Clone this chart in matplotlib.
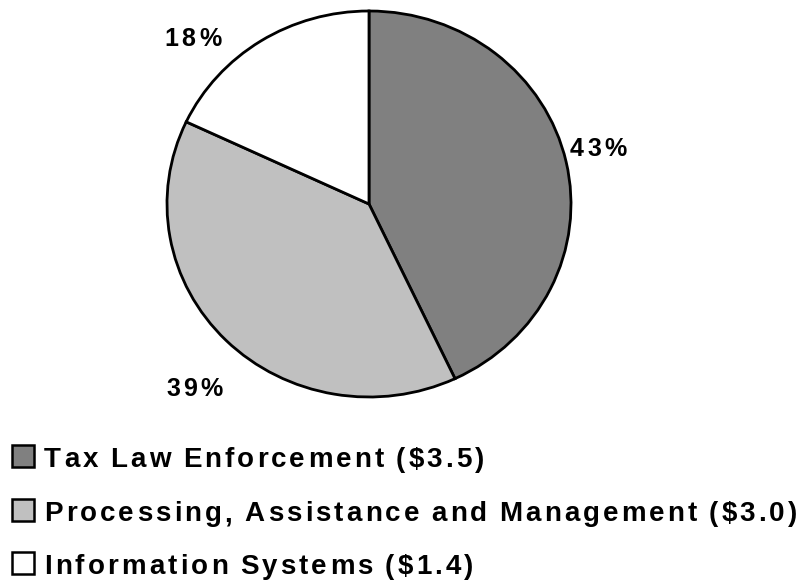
import matplotlib
matplotlib.use("Agg")
import matplotlib.pyplot as plt
from matplotlib import font_manager
from matplotlib.transforms import IdentityTransform

# data (billions of dollars)
categories = ["Tax Law Enforcement", "Processing, Assistance and Management", "Information Systems"]
amounts = [3.5, 3.0, 1.4]
percents = [43, 39, 18]
colors = ["#808080", "#c0c0c0", "#ffffff"]

W, H = 811, 580


def pick_font():
    for name in ["Liberation Sans Narrow", "Arial Narrow", "Liberation Sans"]:
        try:
            font_manager.findfont(font_manager.FontProperties(family=name), fallback_to_default=False)
            return name
        except ValueError:
            continue
    return "DejaVu Sans"


FONT = pick_font()


def spaced_text(fig, renderer, x, y, s, size, spacing, space_w=0.22):
    # draw string char by char with extra tracking, x/y in pixels from top-left
    x_cur = x
    for ch in s:
        if ch == " ":
            x_cur += size * 100 / 72 * space_w + spacing
            continue
        t = fig.text(x_cur, H - y, ch, transform=IdentityTransform(), fontsize=size,
                     fontweight="bold", family=FONT, ha="left", va="center_baseline")
        w = t.get_window_extent(renderer).width
        x_cur += w + spacing
    return x_cur


fig = plt.figure(figsize=(W / 100, H / 100), dpi=100)
renderer = fig.canvas.get_renderer()

ax = fig.add_axes([167 / W, (H - 397) / H, 404 / W, 386 / H])
ax.pie(percents, colors=colors, startangle=90, counterclock=False,
       wedgeprops=dict(edgecolor="black", linewidth=2.0))
ax.set_aspect("auto")
ax.set_xlim(-1, 1)
ax.set_ylim(-1, 1)
ax.axis("off")

# percentage labels (pixel positions, top-left origin)
label_pos = [(570, 146), (166, 386), (164, 36)]
for (lx, ly), p in zip(label_pos, percents):
    spaced_text(fig, renderer, lx, ly, f"{p}%", 18, 3.5)

# legend
rows_y = [456, 510, 563]
for yy, cat, amt, col in zip(rows_y, categories, amounts, colors):
    fig.patches.append(plt.Rectangle((12, H - yy - 11), 22, 22, transform=IdentityTransform(),
                                     facecolor=col, edgecolor="black", linewidth=1.8))
    spaced_text(fig, renderer, 44, yy + 1, f"{cat} (${amt:.1f})", 20, 3.1)

fig.savefig("out.png", dpi=100)
